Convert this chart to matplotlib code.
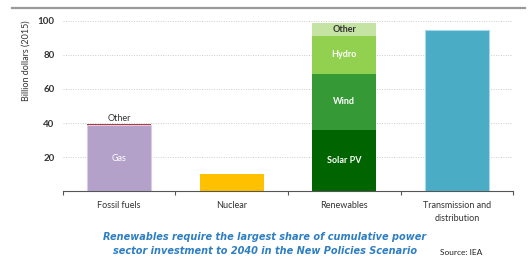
import matplotlib
matplotlib.use("Agg")
import matplotlib.pyplot as plt
from matplotlib.lines import Line2D

plt.rcParams['font.family'] = ['Lato', 'DejaVu Sans']

categories = ["Fossil fuels", "Nuclear", "Renewables", "Transmission and\ndistribution"]
fossil_gas = 38.8
fossil_other = 0.8
nuclear = 10.4
solar_pv = 36.0
wind = 33.0
hydro = 22.0
renew_other = 7.6
transmission = 94.3
yticks = [20, 40, 60, 80, 100]

fig = plt.figure(figsize=(5.29, 2.58), dpi=100)
ax = fig.add_axes([0.119, 0.258, 0.851, 0.662])

w = 0.57
# Fossil fuels
ax.bar(0, fossil_gas, width=w, color="#B3A1C9", edgecolor="#D9CCE6", linewidth=0.8)
ax.bar(0, fossil_other, bottom=fossil_gas, width=w, color="#B5383E", linewidth=0)
ax.text(0, fossil_gas / 2, "Gas", ha="center", va="center", color="white", fontsize=6.5)
ax.text(0, fossil_gas + fossil_other + 0.5, "Other", ha="center", va="bottom", color="#333333", fontsize=6.5)
# Nuclear
ax.bar(1, nuclear, width=w, color="#FFC000", linewidth=0)
# Renewables
b = 0
for val, col, lab, tc in [(solar_pv, "#006400", "Solar PV", "white"),
                          (wind, "#359A35", "Wind", "white"),
                          (hydro, "#92D050", "Hydro", "white"),
                          (renew_other, "#C5E3A2", "Other", "#333333")]:
    ax.bar(2, val, bottom=b, width=w, color=col, linewidth=0)
    ax.text(2, b + val / 2, lab, ha="center", va="center", color=tc, fontsize=6.5, fontweight="bold")
    b += val
# Transmission
ax.bar(3, transmission, width=w, color="#4BACC6", edgecolor="#A6D8E6", linewidth=0.8)

ax.set_xlim(-0.5, 3.5)
ax.set_ylim(0, 100)
ax.set_yticks(yticks)
ax.set_yticklabels([str(v) for v in yticks], fontsize=7, color="#333333", fontweight="bold")
ax.tick_params(axis="y", length=0, pad=6)
ax.set_xticks(range(len(categories)))
ax.set_xticklabels(categories, fontsize=6.5, color="#333333", linespacing=1.5)
ax.set_xticks([-0.5, 0.5, 1.5, 2.5, 3.5], minor=True)
ax.tick_params(axis="x", which="major", length=0, pad=7)
ax.tick_params(axis="x", which="minor", length=3, color="#555555", width=0.8)
ax.yaxis.grid(True, linestyle=(0, (1, 1.5)), color="#CCCCCC", linewidth=0.7)
ax.set_axisbelow(True)
for s in ["top", "right", "left"]:
    ax.spines[s].set_visible(False)
ax.spines["bottom"].set_color("#555555")
ax.spines["bottom"].set_linewidth(0.8)
ax.set_ylabel("Billion dollars (2015)", fontsize=6.5, color="#333333", loc="top", labelpad=5)

fig.add_artist(Line2D([12 / 529, 525 / 529], [1 - 7.5 / 258, 1 - 7.5 / 258],
                      color="#9A9A9A", linewidth=1.6, transform=fig.transFigure))

cap_kw = dict(ha="center", va="center", fontsize=7, color="#2E7EC2", fontstyle="italic",
              fontweight="bold", family="DejaVu Sans")
fig.text(265 / 529, 1 - 237 / 258, "Renewables require the largest share of cumulative power", **cap_kw)
fig.text(265 / 529, 1 - 251 / 258, "sector investment to 2040 in the New Policies Scenario", **cap_kw)
fig.text(440 / 529, 2 / 258, "Source: IEA", ha="left", va="bottom", fontsize=6, color="#222222")

fig.savefig("out.png", dpi=100)
